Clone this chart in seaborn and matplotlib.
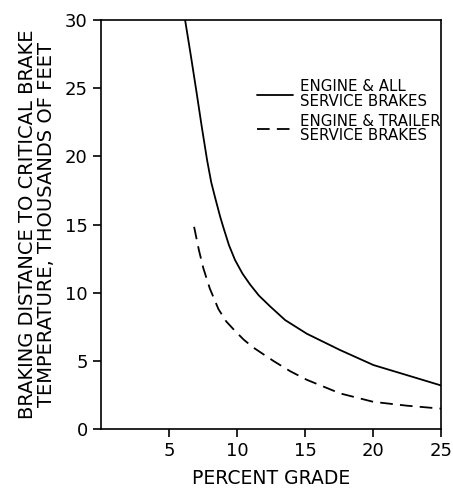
import matplotlib
matplotlib.use("Agg")
import matplotlib.pyplot as plt
import seaborn as sns
import pandas as pd

# values (percent grade vs thousands of feet)
grade_all = [6.18, 6.6, 6.99, 7.4, 7.8, 8.1, 8.38, 8.75, 8.99, 9.4, 9.85, 10.4,
             10.96, 11.6, 12.43, 13.53, 15.12, 17.57, 20.02, 22.48, 25.0]
dist_all = [30.0, 27.4, 24.9, 22.2, 19.7, 18.1, 17.0, 15.6, 14.8, 13.5, 12.4, 11.4,
            10.6, 9.8, 9.0, 8.0, 7.0, 5.8, 4.7, 3.96, 3.2]

grade_trailer = [6.84, 7.2, 7.52, 8.0, 8.63, 9.2, 9.85, 10.5, 11.2, 12.67, 13.9,
                 15.12, 17.57, 20.02, 22.48, 25.0]
dist_trailer = [14.84, 13.1, 11.8, 10.3, 8.8, 7.9, 7.2, 6.55, 5.98, 5.0, 4.25,
                3.62, 2.62, 2.0, 1.72, 1.5]

label_all = "ENGINE & ALL\nSERVICE BRAKES"
label_trailer = "ENGINE & TRAILER\nSERVICE BRAKES"

df_all = pd.DataFrame({"grade": grade_all, "dist": dist_all})
df_trailer = pd.DataFrame({"grade": grade_trailer, "dist": dist_trailer})

sns.set_style("ticks")
plt.rcParams["font.family"] = ["DejaVu Sans"]

fig = plt.figure(figsize=(4.53, 4.91), dpi=100)
ax = fig.add_axes([0.223, 0.126, 0.751, 0.833])

sns.lineplot(data=df_all, x="grade", y="dist", color="black", lw=1.3,
             label=label_all, ax=ax, sort=False)
sns.lineplot(data=df_trailer, x="grade", y="dist", color="black", lw=1.3,
             label=label_trailer, ax=ax, sort=False)
ax.lines[1].set_dashes((7, 4))

ax.set_xlim(0, 25)
ax.set_ylim(0, 30)
ax.set_xticks([5, 10, 15, 20, 25])
ax.set_yticks([0, 5, 10, 15, 20, 25, 30])
ax.tick_params(axis="both", labelsize=13, length=6, width=1.2, color="black",
               labelcolor="black")
for s in ax.spines.values():
    s.set_visible(True)
    s.set_color("black")
    s.set_linewidth(1.2)

ax.set_xlabel("PERCENT GRADE", fontsize=13.5, color="black", labelpad=6)
ax.set_ylabel("BRAKING DISTANCE TO CRITICAL BRAKE\nTEMPERATURE, THOUSANDS OF FEET",
              fontsize=14, color="black", linespacing=1.0, labelpad=6)

leg = ax.legend(loc="upper left", bbox_to_anchor=(0.44, 0.87), frameon=False,
                fontsize=10.8, handlelength=2.4, handletextpad=0.5,
                labelspacing=0.35, borderaxespad=0)
for t in leg.get_texts():
    t.set_linespacing(0.95)
    t.set_color("black")

fig.savefig("out.png", dpi=100)
